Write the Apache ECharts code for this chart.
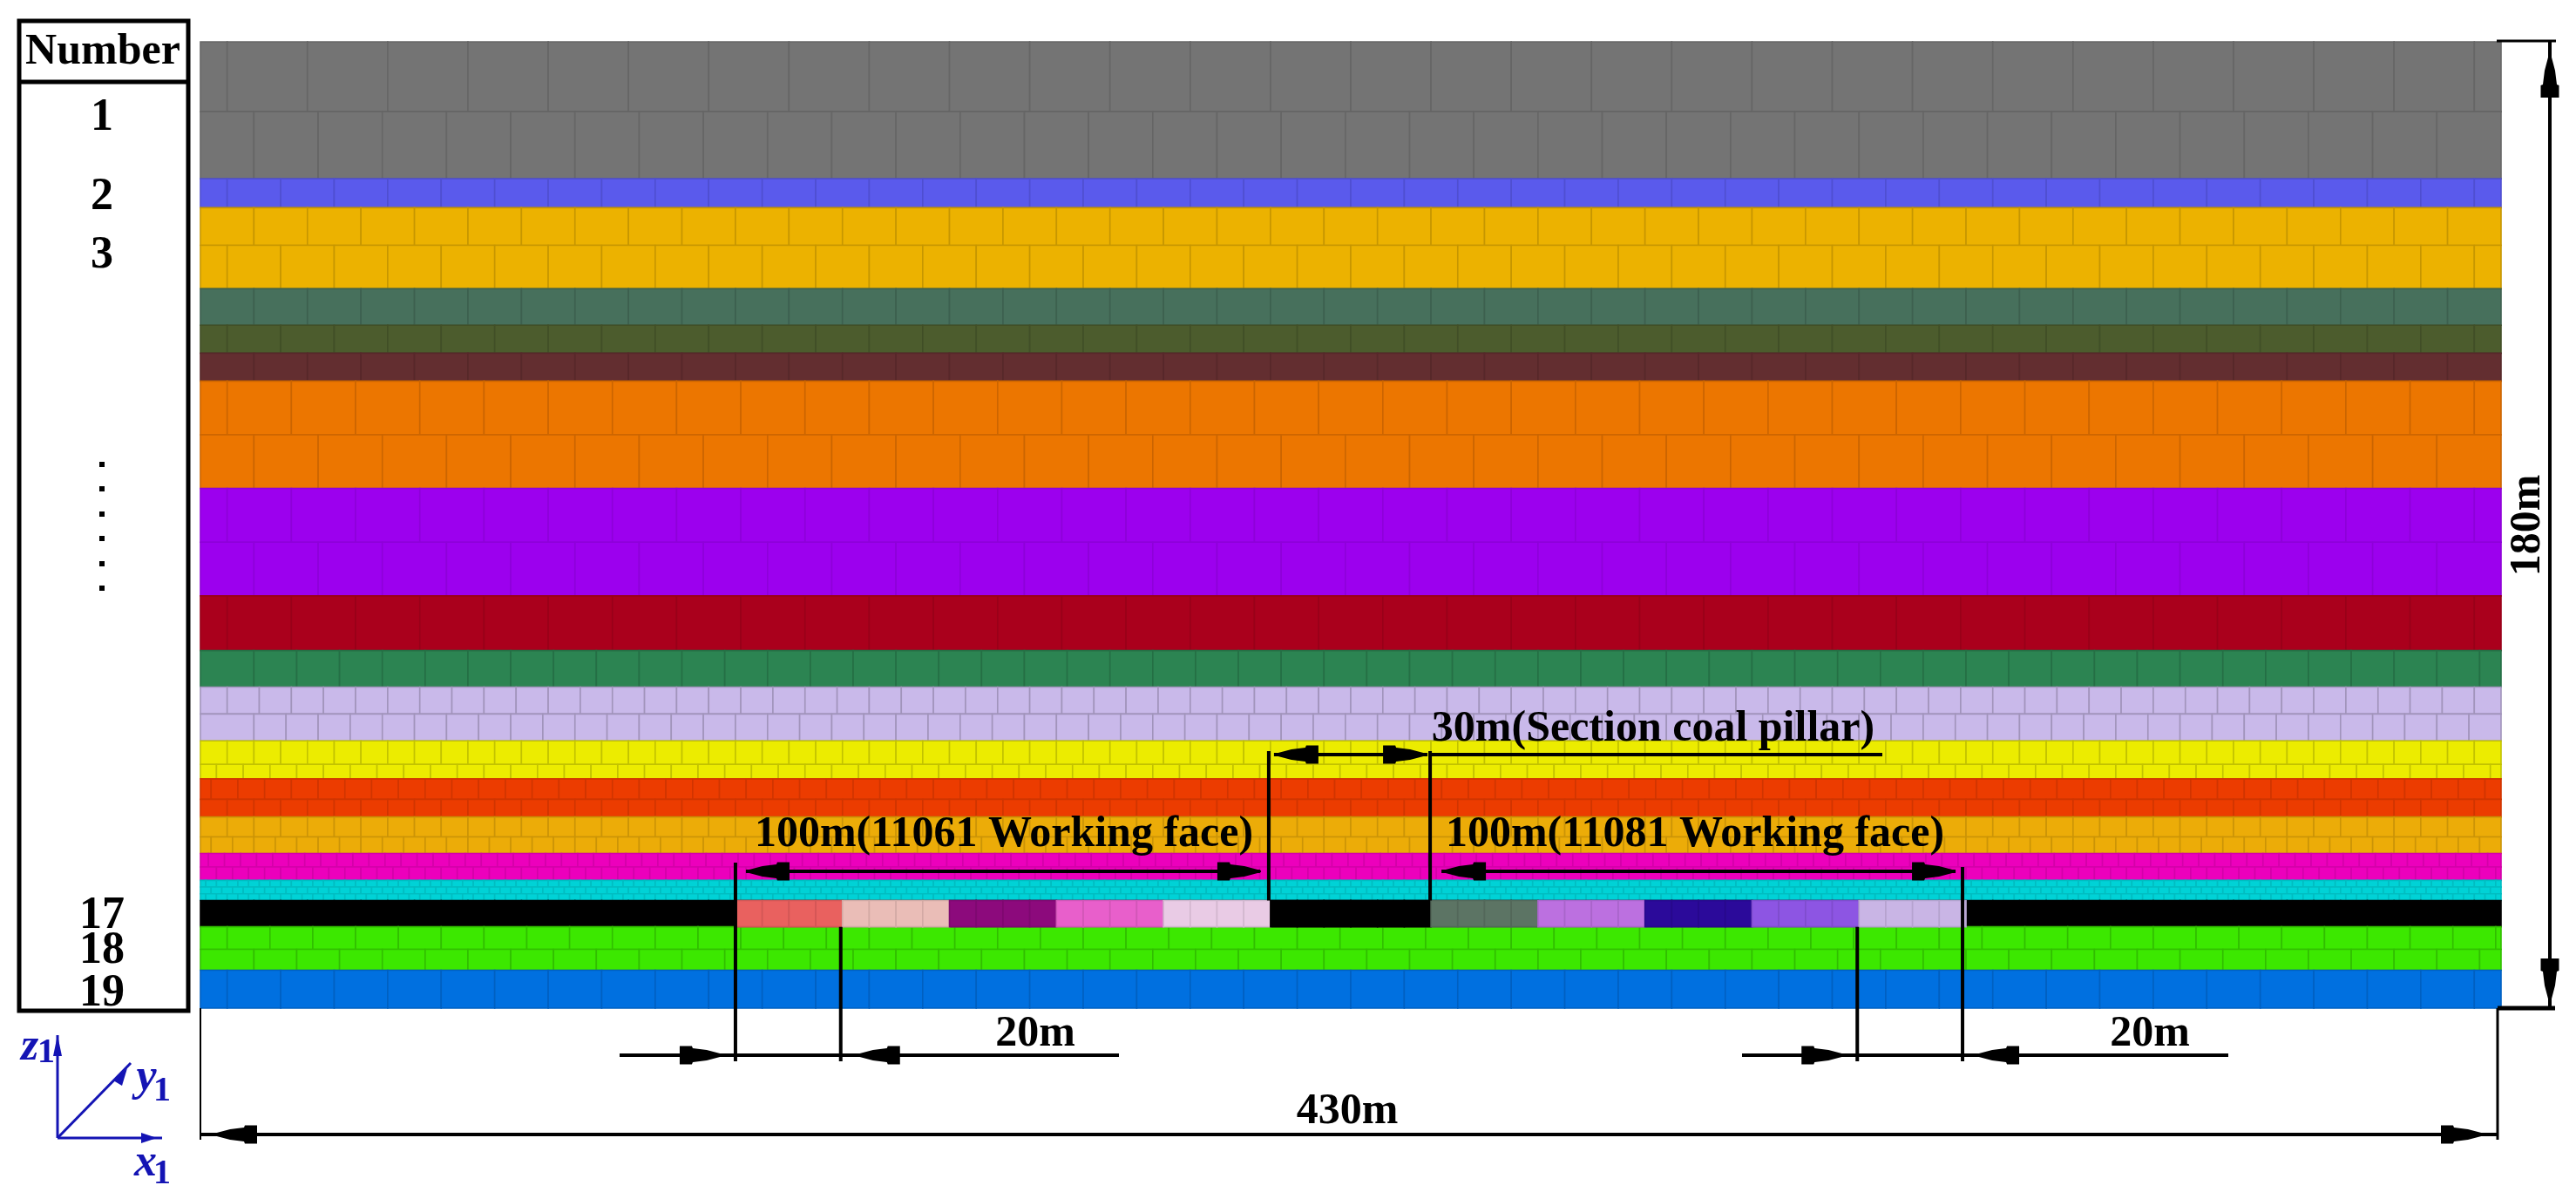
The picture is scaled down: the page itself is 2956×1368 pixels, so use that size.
<!DOCTYPE html>
<html>
<head>
<meta charset="utf-8">
<title>Strata model</title>
<script src="https://cdn.jsdelivr.net/npm/echarts@6/dist/echarts.min.js"></script>
<style>
  html, body { margin: 0; padding: 0; background: #fff; }
  #main { width: 2956px; height: 1368px; }
</style>
</head>
<body>
<div id="main"></div>
<script>
// model size in metres
var modelWidth = 430;
var modelHeight = 180;

// one entry per mesh row, top of the model first
var rowLayer = [1, 1, 2, 3, 3, 4, 5, 6, 7, 7, 8, 8, 9, 10, 11, 11, 12, 12, 13, 13, 14, 14, 15, 15, 16, 16, 16, 17, 18, 18, 19];
var rowThickness = [13, 12.5, 5.4, 7, 8.1, 6.8, 5.2, 5.2, 10, 10, 10, 10, 10.2, 6.8, 5, 5, 4.4, 2.7, 3.8, 3.3, 3.7, 3.1, 2.5, 2.5, 1.25, 1.25, 1.25, 4.9, 4.2, 3.9, 7.05];
var rowBlock = [15, 12, 10, 10, 10, 10, 10, 10, 12, 12, 12, 12, 12, 8, 6, 6, 5, 5, 5, 5, 5, 4, 3, 3, 2, 2, 2, 5, 8, 8, 10];
var rowOffset = [5, 10, 5, 10, 5, 10, 5, 10, 5, 10, 5, 10, 5, 10, 5, 10, 5, 3, 2, 5, 5, 2, 1.5, 3, 1, 2, 1, 5, 5, 10, 5];

// layer number -> colour, and how much darker its mesh lines are
var layerColors = ['#747474', '#5a5aec', '#ecb200', '#47705c', '#4c5c2d', '#632e30', '#ec7600', '#9c00ee', '#aa001c', '#2c8452',
  '#c9b9ea', '#ecec00', '#ec3c00', '#ecac08', '#ec00bc', '#00d2d6', '#000000', '#3ce800', '#0070e0'];
var layerSeamDarken = [0.12, 0.12, 0.16, 0.14, 0.14, 0.12, 0.14, 0.09, 0.1, 0.16,
  0.2, 0.18, 0.12, 0.14, 0.1, 0.1, 0, 0.18, 0.14];

// excavated steps in the coal seam (layer 17)
var faceEdges = [100, 120, 140, 160, 180, 200, 230, 250, 270, 290, 310, 330];
var faceColors = ['#e9615f', '#eabdb7', '#8c0a7c', '#e85fcb', '#e9cbe5', '#000000', '#5c7464', '#bc70e0', '#2b0a9a', '#8d55e3', '#c9b5e5'];

var numberLabels = ['1', '2', '3', '17', '18', '19'];
var dimensionLabels = ['100m(11061 Working face)', '100m(11081 Working face)', '30m(Section coal pillar)', '20m', '20m', '430m', '180m'];

function darken(color, amount) {
  var v = parseInt(color.slice(1), 16);
  var r = Math.round(((v >> 16) & 255) * (1 - amount));
  var g = Math.round(((v >> 8) & 255) * (1 - amount));
  var b = Math.round((v & 255) * (1 - amount));
  return 'rgb(' + r + ',' + g + ',' + b + ')';
}

var bricks = [];
var rowTop = modelHeight;
rowThickness.forEach(function (thick, i) {
  var left = 0;
  var right = rowOffset[i];
  var layer = rowLayer[i] - 1;
  var color = layerColors[layer];
  var seam = darken(color, layerSeamDarken[layer]);
  while (left < modelWidth) {
    var end = Math.min(right, modelWidth);
    bricks.push([left, end, rowTop - thick, rowTop, color, seam]);
    left = end;
    right += rowBlock[i];
  }
  rowTop -= thick;
});

// seam row position, used for the face blocks
var seamIndex = rowLayer.indexOf(17);
var seamTop = modelHeight - rowThickness.slice(0, seamIndex).reduce(function (a, b) { return a + b; }, 0);
var seamBottom = seamTop - rowThickness[seamIndex];

var faceBricks = [];
faceColors.forEach(function (color, i) {
  for (var x = faceEdges[i]; x < faceEdges[i + 1]; x += rowBlock[seamIndex]) {
    faceBricks.push([x, Math.min(x + rowBlock[seamIndex], faceEdges[i + 1]), seamBottom, seamTop, color, darken(color, 0.1)]);
  }
});

function renderBrick(params, api) {
  var p0 = api.coord([api.value(0), api.value(3)]);
  var p1 = api.coord([api.value(1), api.value(2)]);
  var item = params.seriesIndex === 0 ? bricks[params.dataIndex] : faceBricks[params.dataIndex];
  return {
    type: 'rect',
    shape: { x: p0[0], y: p0[1], width: p1[0] - p0[0], height: p1[1] - p0[1] },
    style: { fill: item[4], stroke: item[5], lineWidth: 1.6 }
  };
}

var FONT = 'bold 50px "Liberation Serif"';

function line(x1, y1, x2, y2, w) {
  return { type: 'line', shape: { x1: x1, y1: y1, x2: x2, y2: y2 }, style: { stroke: '#000', lineWidth: w || 4 } };
}

// arrow head with a square back and a long taper, tip at (x, y), dx/dy is where it points
function arrow(x, y, dx, dy) {
  var pts = [[0, -1], [-19, -6], [-35, -8], [-36, -10.5], [-50, -10.5], [-50, 10.5], [-36, 10.5], [-35, 8], [-19, 6], [0, 1]].map(function (p) {
    return [x + p[0] * dx - p[1] * dy, y + p[0] * dy + p[1] * dx];
  });
  return { type: 'polygon', shape: { points: pts }, style: { fill: '#000' } };
}

function label(text, x, y, rotate) {
  return {
    type: 'text', x: x, y: y, rotation: rotate || 0,
    style: { text: text, font: FONT, fill: '#000', textAlign: 'center', textVerticalAlign: 'middle' }
  };
}

function renderDimensions(params, api) {
  function mx(m) { return api.coord([m, 0])[0]; }
  var top = api.coord([0, modelHeight])[1];
  var bottom = api.coord([0, 0])[1];
  var seamY = api.coord([0, seamTop])[1];
  var seamLow = api.coord([0, seamBottom])[1];
  var kids = [];

  // working face spans
  var spanY = 1000;
  kids.push(line(mx(100), 990, mx(100), 1218));
  kids.push(line(mx(120) - 2, seamLow, mx(120) - 2, 1218));
  kids.push(line(mx(100) + 12, spanY, mx(200) - 12, spanY));
  kids.push(arrow(mx(100) + 12, spanY, -1, 0), arrow(mx(200) - 11, spanY, 1, 0));
  kids.push(line(mx(230) + 12, spanY, mx(330) - 12, spanY));
  kids.push(arrow(mx(230) + 13, spanY, -1, 0), arrow(mx(330) - 12, spanY, 1, 0));
  kids.push(label(dimensionLabels[0], 1152, 958));
  kids.push(label(dimensionLabels[1], 1945, 958));

  // coal pillar
  kids.push(line(mx(200) - 2, 862, mx(200) - 2, seamY));
  kids.push(line(mx(230) - 1, 862, mx(230) - 1, seamY));
  kids.push(line(mx(200) + 4, 866, mx(230) - 4, 866));
  kids.push(arrow(mx(200) + 5, 866, -1, 0), arrow(mx(230) - 5, 866, 1, 0));
  kids.push(line(mx(230), 866, 2160, 866));
  kids.push(label(dimensionLabels[2], 1897, 837));

  // 20 m steps
  kids.push(line(711, 1211, 1284, 1211));
  kids.push(arrow(mx(100) - 14, 1211, 1, 0), arrow(mx(120) + 16, 1211, -1, 0));
  kids.push(label(dimensionLabels[3], 1188, 1187));
  kids.push(line(mx(310) - 2, seamLow, mx(310) - 2, 1218));
  kids.push(line(mx(330) - 4, 995, mx(330) - 4, 1218));
  kids.push(line(1999, 1211, 2557, 1211));
  kids.push(arrow(mx(310) - 16, 1211, 1, 0), arrow(mx(330) + 11, 1211, -1, 0));
  kids.push(label(dimensionLabels[4], 2467, 1187));

  // overall width
  kids.push(line(mx(0), bottom, mx(0), 1308, 2));
  kids.push(line(mx(430) - 4, bottom, mx(430) - 4, 1308, 3));
  kids.push(line(mx(0), 1302, mx(430) - 4, 1302));
  kids.push(arrow(mx(0) + 15, 1302, -1, 0), arrow(mx(430) - 19, 1302, 1, 0));
  kids.push(label(dimensionLabels[5], 1546, 1276));

  // overall height
  kids.push(line(2865, top - 1, 2933, top - 1, 3));
  kids.push(line(2866, bottom, 2932, bottom, 5));
  kids.push(line(2926, top, 2926, bottom));
  kids.push(arrow(2926, top + 14, 0, -1), arrow(2926, bottom - 7, 0, 1));
  kids.push(label(dimensionLabels[6], 2901, 603, Math.PI / 2));

  return { type: 'group', children: kids };
}

// number table and coordinate triad sit outside the model
var numberYs = [136, 227, 294, 1052, 1092, 1141];
var dotYs = [533, 561, 590, 618, 647, 675];
var BLUE = '#1414b4';

var tableGraphic = [
  { type: 'rect', shape: { x: 22, y: 24, width: 194, height: 1136 }, style: { fill: '#fff', stroke: '#000', lineWidth: 5 } },
  { type: 'line', shape: { x1: 22, y1: 94, x2: 216, y2: 94 }, style: { stroke: '#000', lineWidth: 5 } },
  { type: 'text', x: 118, y: 60, style: { text: 'Number', font: FONT, fill: '#000', textAlign: 'center', textVerticalAlign: 'middle' } }
];
numberLabels.forEach(function (n, i) {
  tableGraphic.push({
    type: 'text', x: 117, y: numberYs[i],
    style: { text: n, font: 'bold 52px "Liberation Serif"', fill: '#000', textAlign: 'center', textVerticalAlign: 'middle' }
  });
});
dotYs.forEach(function (y) {
  tableGraphic.push({ type: 'rect', shape: { x: 114, y: y - 3, width: 6, height: 6 }, style: { fill: '#000' } });
});

var triad = [
  [66, 1306, 66, 1188], [66, 1306, 186, 1306], [66, 1306, 150, 1220]
];
triad.forEach(function (s) {
  tableGraphic.push({ type: 'line', shape: { x1: s[0], y1: s[1], x2: s[2], y2: s[3] }, style: { stroke: BLUE, lineWidth: 3 } });
});
tableGraphic.push(
  { type: 'polygon', shape: { points: [[66, 1188], [61, 1212], [71, 1212]] }, style: { fill: BLUE } },
  { type: 'polygon', shape: { points: [[180, 1306], [162, 1300], [162, 1312]] }, style: { fill: BLUE } },
  { type: 'polygon', shape: { points: [[146, 1226], [130, 1240], [140, 1246]] }, style: { fill: BLUE } }
);
[['z', 34, 1203], ['y', 168, 1238], ['x', 167, 1336]].forEach(function (t) {
  tableGraphic.push({
    type: 'text', x: t[1], y: t[2],
    style: { text: t[0], font: 'italic bold 52px "Liberation Serif"', fill: BLUE, textAlign: 'center', textVerticalAlign: 'middle' }
  });
});
[[53, 1209], [186, 1253], [186, 1348]].forEach(function (t) {
  tableGraphic.push({
    type: 'text', x: t[0], y: t[1],
    style: { text: '1', font: 'bold 40px "Liberation Serif"', fill: BLUE, textAlign: 'center', textVerticalAlign: 'middle' }
  });
});

var chart = echarts.init(document.getElementById('main'));
chart.setOption({
  animation: false,
  backgroundColor: '#fff',
  grid: { left: 230, top: 48, width: 2640, height: 1109 },
  xAxis: { type: 'value', min: 0, max: modelWidth, show: false },
  yAxis: { type: 'value', min: 0, max: modelHeight, show: false },
  graphic: tableGraphic,
  series: [
    { type: 'custom', data: bricks, renderItem: renderBrick, silent: true, z: 1 },
    { type: 'custom', data: faceBricks, renderItem: renderBrick, silent: true, z: 2 },
    { type: 'custom', data: [[0, 0]], renderItem: renderDimensions, silent: true, z: 3, clip: false }
  ]
});
</script>
</body>
</html>
